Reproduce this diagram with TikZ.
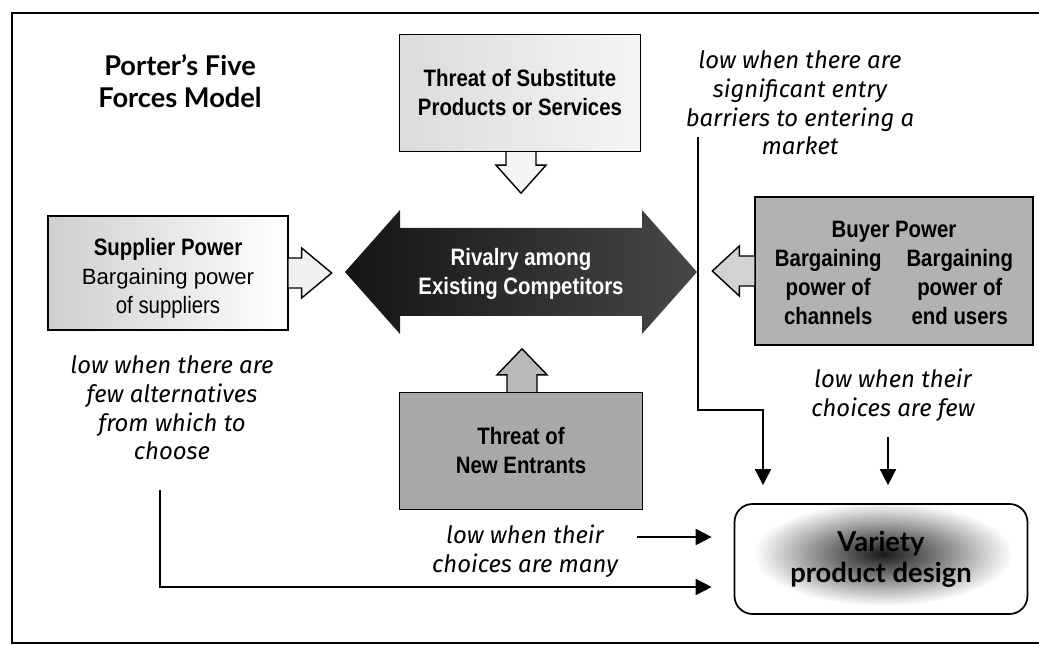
\documentclass[tikz,border=0pt]{standalone}
\usepackage{fontspec}
\setmainfont{Liberation Sans}
\newfontfamily\cond{Liberation Sans}[FakeStretch=0.86]
\newfontfamily\gill{Lato}
\newfontfamily\hand{Fira Sans}
\usetikzlibrary{arrows.meta}

\definecolor{lightbox}{gray}{0.86}
\definecolor{midbox}{gray}{0.70}
\definecolor{darkbox}{gray}{0.66}

\tikzset{
  box/.style={draw, line width=0.8pt, align=center, inner sep=0pt,
    font=\cond\fontsize{13.5}{16.5}\selectfont},
  note/.style={font=\hand\itshape\fontsize{13.6}{16.3}\selectfont, align=center, inner sep=0pt},
  hollow/.style={draw, line width=0.8pt, line join=miter},
  link/.style={line width=1pt, -{Triangle[width=0.32cm,length=0.32cm]}}
}

\begin{document}
\begin{tikzpicture}[x=0.02cm, y=-0.02cm]
    \useasboundingbox (0,0) rectangle (1039,645);

    % Frame round the model
    \draw[line width=1.2pt] (1039,13) -- (12,13) -- (12,643) -- (1039,643);

    % Title
    \node[font=\gill\bfseries\fontsize{15.5}{18}\selectfont, align=center] (title) at (180,81)
        {Porter’s Five\\Forces Model};

    % Central rivalry arrow
    \shade[left color=black!92, right color=black!72]
        (345,272) -- (400,210) -- (400,228) -- (642,228) -- (642,210) -- (697,272)
        -- (642,334) -- (642,316) -- (400,316) -- (400,334) -- cycle;
    \node[box, draw=none, text=white, font=\cond\bfseries\fontsize{13.5}{16.5}\selectfont]
        (rivalry) at (521,274) {Rivalry among\\Existing Competitors};

    % The four forces
    \node[box, left color=lightbox, right color=gray!8, minimum width=4.82cm, minimum height=2.34cm]
        (subst) at (520,93) {\bfseries Threat of Substitute\\\bfseries Products or Services};
    \node[box, left color=gray!38, right color=white, minimum width=4.8cm, minimum height=2.28cm]
        (supplier) at (168,273) {\rule{0pt}{16pt}\bfseries Supplier Power\\
        \rmfamily\fontsize{12.6}{16.5}\selectfont Bargaining power\\of suppliers};
    \node[box, left color=midbox, right color=gray!60, minimum width=5.56cm, minimum height=2.96cm]
        (buyer) at (894,271) {\rule{0pt}{16pt}\bfseries Buyer Power\\
        \bfseries\begin{tabular}[t]{@{}c@{\hspace{0.5cm}}c@{}}
        Bargaining & Bargaining\\ power of & power of\\ channels & end users
        \end{tabular}};
    \node[box, fill=darkbox, minimum width=4.86cm, minimum height=2.34cm]
        (entrant) at (521,451) {\bfseries Threat of\\\bfseries New Entrants};

    % Outcome box
    \shade[inner color=black!90, outer color=white] (883,554) ellipse (130 and 52);
    \node[draw, line width=1pt, rounded corners=0.36cm, minimum width=5.86cm, minimum height=2.2cm,
        font=\gill\bfseries\fontsize{15.6}{17.5}\selectfont, align=center]
        (variety) at (881,559) {Variety\\product design};

    % Hollow arrows into the rivalry
    \draw[hollow, fill=gray!8] ([xshift=-0.28cm]subst.south) -- ++(0,13) -- ++(-10,0)
        -- ++(25,28) -- ++(25,-28) -- ++(-10,0) -- ++(0,-13);
    \draw[hollow, fill=gray!12] ([yshift=0.3cm]supplier.east) -- ++(13,0) -- ++(0,-10)
        -- ++(30,25) -- ++(-30,25) -- ++(0,-10) -- ++(-13,0);
    \draw[hollow, fill=gray!35] ([yshift=0.3cm]buyer.west) -- ++(-15,0) -- ++(0,-10)
        -- ++(-27,25) -- ++(27,25) -- ++(0,-10) -- ++(15,0);
    \draw[hollow, fill=gray!55] ([xshift=-0.28cm]entrant.north) -- ++(0,-17) -- ++(-10,0)
        -- ++(25,-26) -- ++(25,26) -- ++(-10,0) -- ++(0,17);

    % Handwritten notes
    \node[note] (nbarrier) at (800,103)
        {low when there are\\significant entry\\barriers to entering a\\market};
    \node[note] (nsupplier) at (172,408)
        {low when there are\\few alternatives\\from which to\\choose};
    \node[note] (nbuyer) at (893,395) {low when their\\choices are few};
    \node[note] (nentrant) at (525,551) {low when their\\choices are many};

    % Connectors to the outcome
    \coordinate (bstart) at (698,137);
    \coordinate (fstart) at (888,437);
    \coordinate (estart) at (637,537);
    \coordinate (sstart) at (160,490);
    \coordinate (slow) at (160,587);

    \draw[link, shorten >=0.36cm] (bstart) -- ++(0,273) -| ([xshift=-2.36cm]variety.north);
    \draw[link, shorten >=0.36cm] (fstart) -- (fstart |- variety.north);
    \draw[link, shorten >=0.44cm] (estart) -- (estart -| variety.west);
    \draw[link, shorten >=0.44cm] (sstart) -- (slow) -- (slow -| variety.west);
\end{tikzpicture}
\end{document}
